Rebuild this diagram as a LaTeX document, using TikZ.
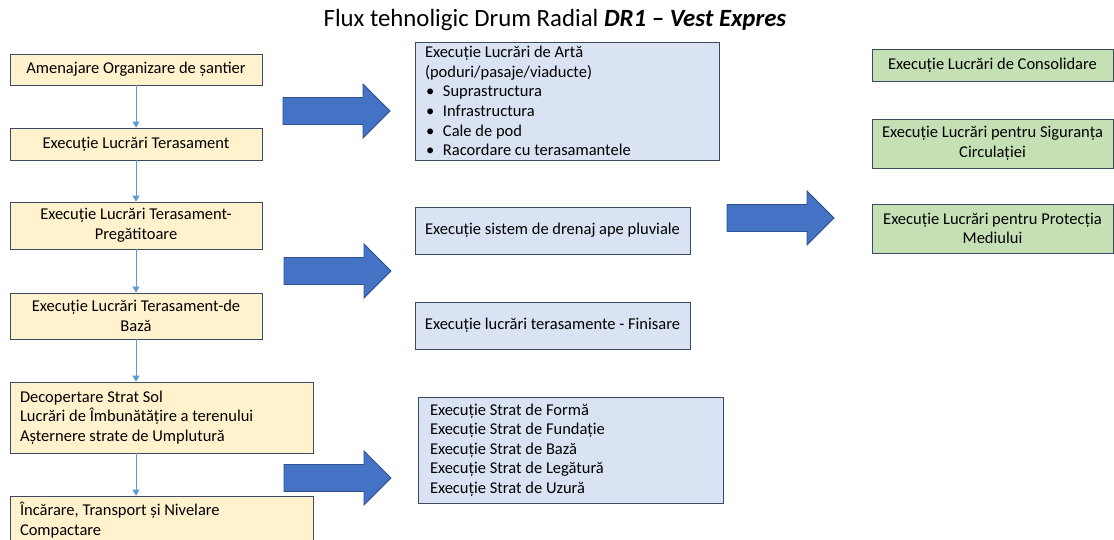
\documentclass[tikz,border=0pt]{standalone}
\usepackage{fontspec}
\setmainfont{Carlito}
\usetikzlibrary{arrows.meta}
\definecolor{yfill}{HTML}{FFF2CC}
\definecolor{bfill}{HTML}{DAE3F3}
\definecolor{gfill}{HTML}{C5E0B4}
\definecolor{bord}{HTML}{3A4A63}
\definecolor{afill}{HTML}{4472C4}
\definecolor{adraw}{HTML}{2F528F}
\definecolor{conn}{HTML}{5B9BD5}
\begin{document}
\begin{tikzpicture}[x=1pt,y=-1pt,
  box/.style={draw=bord, line width=0.9pt, inner sep=0pt, align=center,
    font=\fontsize{16.5}{19.6}\selectfont},
  ybox/.style={box, fill=yfill},
  bbox/.style={box, fill=bfill},
  gbox/.style={box, fill=gfill},
  flow/.style={draw=conn, line width=0.9pt, -{Triangle[width=7pt,length=6pt]}},
  bigarrow/.pic={\draw[fill=afill, draw=adraw, line width=0.9pt]
     (0,-13.5) -- (80,-13.5) -- (80,-27) -- (107,0) -- (80,27) -- (80,13.5) -- (0,13.5) -- cycle;}]
\clip (0,0) rectangle (1114,539);
\fill[white] (0,0) rectangle (1114,539);

\node[font=\fontsize{24.8}{28}\selectfont] (title) at (555,20)
  {Flux tehnoligic Drum Radial \textbf{\textit{DR1 – Vest Expres}}};

% left column
\node[ybox, minimum width=252, minimum height=31] (y1) at (136,69.5) {Amenajare Organizare de șantier};
\node[ybox, minimum width=252, minimum height=32] (y2) at (136,144) {Execuție Lucrări Terasament};
\node[ybox, minimum width=252, minimum height=47] (y3) at (136,225.5) {Execuție Lucrări Terasament-\\Pregătitoare};
\node[ybox, minimum width=252, minimum height=46] (y4) at (136,316) {Execuție Lucrări Terasament-de\\Bază};
\node[ybox, minimum width=303, minimum height=71, text width=283, align=flush left] (y5) at (161.5,417.5)
  {Decopertare Strat Sol\\Lucrări de Îmbunătățire a terenului\\Așternere strate de Umplutură};
\node[ybox, minimum width=303, minimum height=48, text width=283, align=flush left] (y6) at (161.5,520)
  {Încărare, Transport și Nivelare\\Compactare};

\draw[flow] (y1.south) -- (y2.north);
\draw[flow] (y2.south) -- (y3.north);
\draw[flow] (y3.south) -- (y4.north);
\draw[flow] (y4.south) -- (y4.south |- y5.north);
\draw[flow] (y4.south |- y5.south) -- (y4.south |- y6.north);

% middle column
\node[bbox, minimum width=304, minimum height=118, text width=284, align=flush left] (b1) at (567,101)
  {Execuție Lucrări de Artă\\(poduri/pasaje/viaducte)\\
   \hspace*{1pt}\makebox[17pt][l]{•}Suprastructura\\
   \hspace*{1pt}\makebox[17pt][l]{•}Infrastructura\\
   \hspace*{1pt}\makebox[17pt][l]{•}Cale de pod\\
   \hspace*{1pt}\makebox[17pt][l]{•}Racordare cu terasamantele};
\node[bbox, minimum width=275, minimum height=47] (b2) at (552.5,230.5) {Execuție sistem de drenaj ape pluviale};
\node[bbox, minimum width=275, minimum height=47] (b3) at (552.5,325.5) {Execuție lucrări terasamente - Finisare};
\node[bbox, minimum width=305, minimum height=106, text width=281, align=flush left] (b4) at (570.5,450)
  {Execuție Strat de Formă\\Execuție Strat de Fundație\\Execuție Strat de Bază\\Execuție Strat de Legătură\\Execuție Strat de Uzură};

% right column
\node[gbox, minimum width=241, minimum height=32] (g1) at (992.5,65.5) {Execuție Lucrări de Consolidare};
\node[gbox, minimum width=241, minimum height=49] (g2) at (992.5,143.5) {Execuție Lucrări pentru Siguranța\\Circulației};
\node[gbox, minimum width=241, minimum height=49] (g3) at (992.5,228.5) {Execuție Lucrări pentru Protecția\\Mediului};

% big arrows
\pic at (283,111) {bigarrow};
\pic at (284,271) {bigarrow};
\pic at (284,478) {bigarrow};
\pic at (727,218) {bigarrow};
\end{tikzpicture}
\end{document}
